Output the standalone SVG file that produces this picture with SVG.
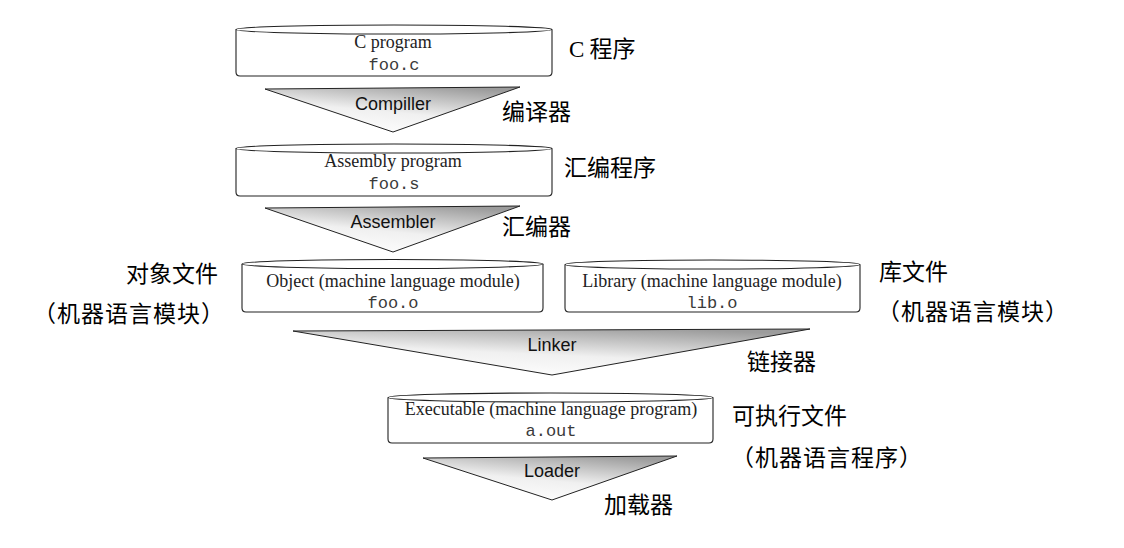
<svg xmlns="http://www.w3.org/2000/svg" width="1124" height="548" viewBox="0 0 1124 548">
<style>
.body{fill:#fff;stroke:#222;stroke-width:1.1}
.top{fill:#fff;stroke:#222;stroke-width:1.1}
.tri{fill:url(#g);stroke:#222;stroke-width:1}
.serif{font-family:"Liberation Serif","Times New Roman",serif;font-size:18px;fill:#222;text-anchor:middle}
.mono{font-family:"Liberation Mono","Courier New",monospace;font-size:17px;fill:#3a3a3a;text-anchor:middle}
.sans{font-family:"Liberation Sans",Arial,sans-serif;font-size:18px;fill:#111;text-anchor:middle}
.cjk{font-family:"Noto Sans CJK SC","Noto Sans",sans-serif;font-size:23px;fill:#000}
.mid{text-anchor:middle}
.wide{letter-spacing:1px}
</style>
<defs>
<linearGradient id="g" x1="0.25" y1="1" x2="0.75" y2="0">
<stop offset="0" stop-color="#ffffff"/>
<stop offset="0.45" stop-color="#f0f0f0"/>
<stop offset="1" stop-color="#9c9c9c"/>
</linearGradient>
</defs>
<rect width="1124" height="548" fill="#fff"/>

<g id="connectors">
<g id="compiler">
<path class="tri" d="M265,89 L520,87 L393,132 Z"/>
<text class="sans" x="393" y="110">Compiller</text>
</g>
<g id="assembler">
<path class="tri" d="M265,208 L520,206 L393,252 Z"/>
<text class="sans" x="393" y="228">Assembler</text>
</g>
<g id="linker">
<path class="tri" d="M293,331 L810,329 L552,375 Z"/>
<text class="sans" x="552" y="351">Linker</text>
</g>
<g id="loader">
<path class="tri" d="M423,458 L677,456 L552,500 Z"/>
<text class="sans" x="552" y="477">Loader</text>
</g>
</g>

<g id="c-program">
<path class="body" d="M236,29.5 L236,72 Q236,76 240,76 L548,76 Q552,76 552,72 L552,29.5"/>
<ellipse class="top" cx="394" cy="29.5" rx="158" ry="4.5"/>
<text class="serif" x="393" y="48">C program</text>
<text class="mono" x="394" y="70">foo.c</text>
</g>

<g id="assembly-program">
<path class="body" d="M236,148.5 L236,192 Q236,196 240,196 L548,196 Q552,196 552,192 L552,148.5"/>
<ellipse class="top" cx="394" cy="148.5" rx="158" ry="4.5"/>
<text class="serif" x="393" y="167">Assembly program</text>
<text class="mono" x="394" y="189">foo.s</text>
</g>

<g id="object">
<path class="body" d="M242,264 L242,308 Q242,312 246,312 L539,312 Q543,312 543,308 L543,264"/>
<ellipse class="top" cx="392.5" cy="264" rx="150.5" ry="4.5"/>
<text class="serif" x="393" y="287">Object (machine language module)</text>
<text class="mono" x="393" y="308">foo.o</text>
</g>

<g id="library">
<path class="body" d="M565,264.5 L565,308 Q565,312 569,312 L856,312 Q860,312 860,308 L860,264.5"/>
<ellipse class="top" cx="712.5" cy="264.5" rx="147.5" ry="4.5"/>
<text class="serif" x="712" y="287">Library (machine language module)</text>
<text class="mono" x="712" y="308">lib.o</text>
</g>

<g id="executable">
<path class="body" d="M388,397.5 L388,439 Q388,443 392,443 L709,443 Q713,443 713,439 L713,397.5"/>
<ellipse class="top" cx="550.5" cy="397.5" rx="162.5" ry="4.5"/>
<text class="serif" x="551" y="415">Executable (machine language program)</text>
<text class="mono" x="551" y="436">a.out</text>
</g>

<g id="labels">
<text class="cjk" x="569" y="57"><tspan font-family="Liberation Serif, serif">C</tspan> 程序</text>
<text class="cjk" x="502" y="120">编译器</text>
<text class="cjk" x="564" y="176">汇编程序</text>
<text class="cjk" x="502" y="235">汇编器</text>
<text class="cjk" x="126" y="282">对象文件</text>
<text class="cjk mid wide" x="129" y="322">（机器语言模块）</text>
<text class="cjk" x="879" y="280">库文件</text>
<text class="cjk mid wide" x="973" y="320">（机器语言模块）</text>
<text class="cjk" x="747" y="370">链接器</text>
<text class="cjk" x="732" y="424">可执行文件</text>
<text class="cjk mid wide" x="827" y="466">（机器语言程序）</text>
<text class="cjk" x="604" y="513">加载器</text>
</g>
</svg>
